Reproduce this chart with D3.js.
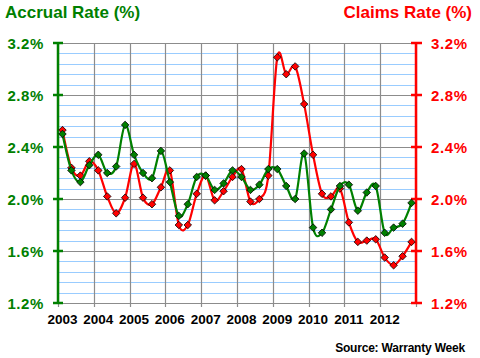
<!DOCTYPE html>
<html><head><meta charset="utf-8">
<script src="https://cdn.jsdelivr.net/npm/d3@7"></script>
<style>html,body{margin:0;padding:0;background:#fff;}svg{display:block;font-family:"Liberation Sans",Arial,sans-serif;}</style>
</head><body>
<script>
const years = ['2003','2004','2005','2006','2007','2008','2009','2010','2011','2012'];
const accrual = [2.50,2.22,2.13,2.26,2.34,2.20,2.25,2.57,2.34,2.20, 2.16,2.37,2.13,1.87,1.96,2.17,2.18,2.07,2.12,2.22, 2.17,2.07,2.11,2.23,2.23,2.10,2.00,2.35,1.78,1.74, 1.92,2.10,2.11,1.91,2.05,2.10,1.74,1.78,1.81,1.97];
const claims = [2.53,2.24,2.18,2.29,2.22,2.02,1.89,2.01,2.27,2.01, 1.96,2.09,2.22,1.80,1.80,2.04,2.18,1.99,2.06,2.17, 2.23,1.98,2.00,2.18,3.09,2.96,3.02,2.73,2.34,2.04, 2.02,2.08,1.82,1.67,1.68,1.69,1.55,1.49,1.56,1.67];
const yTicks = [1.2,1.6,2.0,2.4,2.8,3.2];
const minorStep = 0.08;

const W = 480, H = 358;
const L = 58, R = 416, T = 43, B = 303;
const GREEN = '#008000', RED = '#ff0000';

const svg = d3.select('body').append('svg').attr('width', W).attr('height', H);
const x = d3.scaleLinear().domain([0, accrual.length]).range([L, R]);
const yL = d3.scaleLinear().domain([1.2, 3.2]).range([B, T]);
const yR = d3.scaleLinear().domain([1.2, 3.2]).range([B, T]);

// minor gridlines
const minors = d3.range(1.2 + minorStep, 3.2 - 1e-6, minorStep).filter(v => Math.abs((v - 1.2) / 0.4 - Math.round((v - 1.2) / 0.4)) > 1e-6);
svg.append('g').selectAll('line').data(minors).join('line')
  .attr('x1', L).attr('x2', R).attr('y1', d => Math.round(yL(d)) + 0.5).attr('y2', d => Math.round(yL(d)) + 0.5)
  .attr('stroke', '#99ccff').attr('stroke-width', 1);
// major horizontal gridlines
svg.append('g').selectAll('line').data(yTicks).join('line')
  .attr('x1', L).attr('x2', R).attr('y1', d => Math.round(yL(d)) + 0.5).attr('y2', d => Math.round(yL(d)) + 0.5)
  .attr('stroke', '#8c8c8c').attr('stroke-width', 1.2);
// vertical gridlines
const yearIdx = d3.range(0, accrual.length + 1, 4);
svg.append('g').selectAll('line').data(yearIdx).join('line')
  .attr('x1', d => Math.round(x(d)) + 0.5).attr('x2', d => Math.round(x(d)) + 0.5)
  .attr('y1', T).attr('y2', B + 4)
  .attr('stroke', '#8c8c8c').attr('stroke-width', 1.2);

// axes
const gl = svg.append('g');
gl.append('line').attr('x1', L).attr('x2', L).attr('y1', T).attr('y2', B).attr('stroke', GREEN).attr('stroke-width', 2.5);
gl.selectAll('line.t').data(yTicks).join('line').attr('class', 't')
  .attr('x1', L - 5).attr('x2', L + 5).attr('y1', d => yL(d)).attr('y2', d => yL(d)).attr('stroke', GREEN).attr('stroke-width', 2.5);
gl.selectAll('text').data(yTicks).join('text')
  .attr('x', 44).attr('y', d => yL(d) + 5.5).attr('text-anchor', 'end')
  .attr('fill', GREEN).attr('font-weight', 'bold').attr('font-size', 15).attr('letter-spacing', 0.6)
  .text(d => d.toFixed(1) + '%');

const gr = svg.append('g');
gr.append('line').attr('x1', R).attr('x2', R).attr('y1', T).attr('y2', B).attr('stroke', RED).attr('stroke-width', 2.5);
gr.selectAll('line.t').data(yTicks).join('line').attr('class', 't')
  .attr('x1', R - 5).attr('x2', R + 6).attr('y1', d => yR(d)).attr('y2', d => yR(d)).attr('stroke', RED).attr('stroke-width', 2.5);
gr.selectAll('text').data(yTicks).join('text')
  .attr('x', 431).attr('y', d => yR(d) + 5.5).attr('text-anchor', 'start')
  .attr('fill', RED).attr('font-weight', 'bold').attr('font-size', 15).attr('letter-spacing', 0.6)
  .text(d => d.toFixed(1) + '%');

// x labels
svg.append('g').selectAll('text').data(years).join('text')
  .attr('x', (d, i) => x(i * 4 + 0.5)).attr('y', 323.5).attr('text-anchor', 'middle')
  .attr('fill', '#000').attr('font-weight', 'bold').attr('font-size', 13.5)
  .text(d => d);

// series
const line = (ys) => d3.line().x((d, i) => x(i + 0.5)).y(d => ys(d)).curve(d3.curveCatmullRom.alpha(0));
function drawSeries(data, ys, color) {
  const g = svg.append('g');
  g.append('path').datum(data).attr('d', line(ys)).attr('fill', 'none').attr('stroke', color).attr('stroke-width', 2.2);
  g.selectAll('path.m').data(data).join('path').attr('class', 'm')
    .attr('d', d3.symbol().type(d3.symbolDiamond2).size(36))
    .attr('transform', (d, i) => `translate(${x(i + 0.5)},${ys(d)})`)
    .attr('fill', color).attr('stroke', '#000').attr('stroke-width', 0.8);
}
drawSeries(claims, yR, RED);
drawSeries(accrual, yL, GREEN);

// titles
svg.append('text').attr('x', 5).attr('y', 18).attr('fill', GREEN).attr('font-weight', 'bold').attr('font-size', 17)
  .text('Accrual Rate (%)');
svg.append('text').attr('x', 472).attr('y', 18).attr('text-anchor', 'end').attr('fill', RED).attr('font-weight', 'bold').attr('font-size', 17)
  .text('Claims Rate (%)');
svg.append('text').attr('x', 465).attr('y', 352).attr('text-anchor', 'end').attr('fill', '#000').attr('font-weight', 'bold').attr('font-size', 12)
  .attr('letter-spacing', -0.2).text('Source: Warranty Week');
</script>
</body></html>
